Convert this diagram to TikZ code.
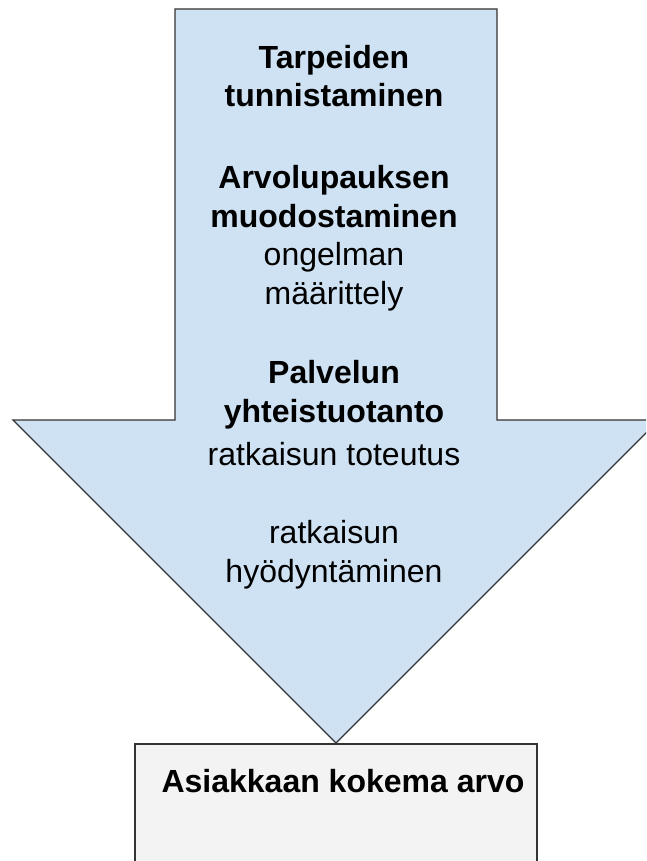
\documentclass[tikz,border=0pt]{standalone}
\usepackage{fontspec}
\setmainfont{Liberation Sans}
\definecolor{arrowblue}{HTML}{CFE2F3}
\definecolor{boxgray}{HTML}{F3F3F3}
\definecolor{edgegray}{HTML}{333333}
\tikzset{
  label/.style={align=center, anchor=base, inner sep=0pt, font=\fontsize{32}{38.5}\selectfont},
  boldlabel/.style={label, font=\fontsize{32}{38.5}\selectfont\bfseries}
}
\begin{document}
\begin{tikzpicture}[x=1pt,y=-1pt]
    \useasboundingbox (0,0) rectangle (646,861);
    \clip (0,0) rectangle (646,861);

    % Arrow
    \draw[edgegray, line width=1.3pt, fill=arrowblue, line join=miter]
      (175,9) -- (497,9) -- (497,420) -- (659,420) -- (336,743)
      -- (13,420) -- (175,420) -- cycle;

    % Box
    \draw[edgegray, line width=1.3pt, fill=boxgray] (135,744) rectangle (537,880);

    % Labels
    \node[boldlabel] (tarpeet) at (334,107) {Tarpeiden\\tunnistaminen};
    \node[boldlabel] (lupaus) at (334,227) {Arvolupauksen\\muodostaminen};
    \node[label] (ongelma) at (334,304) {ongelman\\määrittely};
    \node[boldlabel] (palvelu) at (334,422) {Palvelun\\yhteistuotanto};
    \node[label] (toteutus) at (334,465) {ratkaisun toteutus};
    \node[label] (hyoty) at (334,582) {ratkaisun\\hyödyntäminen};
    \node[boldlabel] (arvo) at (343,792) {Asiakkaan kokema arvo};
\end{tikzpicture}
\end{document}
